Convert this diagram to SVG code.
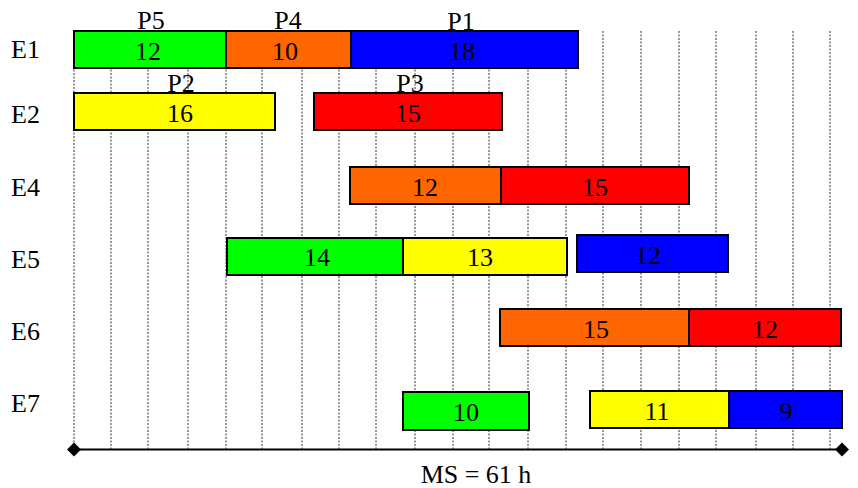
<svg xmlns="http://www.w3.org/2000/svg" width="858" height="488" viewBox="0 0 858 488">
<style>
text{font-family:"Liberation Serif","Times New Roman",serif;font-size:26px;fill:#000}
.c{text-anchor:middle}
.grid line{stroke:#333;stroke-width:1;stroke-dasharray:2,1.5}
.bar{stroke:#000;stroke-width:2}
.g{fill:#00FF00}.o{fill:#FF6600}.b{fill:#0000FF}.y{fill:#FFFF00}.r{fill:#FF0000}
</style>
<rect width="858" height="488" fill="#fff"/>
<g class="grid">
<line x1="74" y1="31" x2="74" y2="449"/>
<line x1="111" y1="31" x2="111" y2="449"/>
<line x1="148" y1="31" x2="148" y2="449"/>
<line x1="188" y1="31" x2="188" y2="449"/>
<line x1="226" y1="31" x2="226" y2="449"/>
<line x1="262" y1="31" x2="262" y2="449"/>
<line x1="302" y1="31" x2="302" y2="449"/>
<line x1="339" y1="31" x2="339" y2="449"/>
<line x1="376" y1="31" x2="376" y2="449"/>
<line x1="415" y1="31" x2="415" y2="449"/>
<line x1="453" y1="31" x2="453" y2="449"/>
<line x1="489" y1="31" x2="489" y2="449"/>
<line x1="528" y1="31" x2="528" y2="449"/>
<line x1="566" y1="31" x2="566" y2="449"/>
<line x1="603" y1="31" x2="603" y2="449"/>
<line x1="641" y1="31" x2="641" y2="449"/>
<line x1="679" y1="31" x2="679" y2="449"/>
<line x1="716" y1="31" x2="716" y2="449"/>
<line x1="756" y1="31" x2="756" y2="449"/>
<line x1="793" y1="31" x2="793" y2="449"/>
<line x1="830" y1="31" x2="830" y2="449"/>
</g>
<g id="row-labels">
<text x="11" y="58">E1</text>
<text x="11" y="123">E2</text>
<text x="11" y="196">E4</text>
<text x="11" y="268">E5</text>
<text x="11" y="340">E6</text>
<text x="11" y="412">E7</text>
</g>
<g id="E1-P5"><rect class="bar g" x="74" y="31" width="152" height="37"/><text class="c" x="148" y="60">12</text><text class="c" x="151" y="29">P5</text></g>
<g id="E1-P4"><rect class="bar o" x="226" y="31" width="125" height="37"/><text class="c" x="285" y="60">10</text><text class="c" x="288" y="29">P4</text></g>
<g id="E1-P1"><rect class="bar b" x="351" y="31" width="227" height="37"/><text class="c" x="462" y="60">18</text><text class="c" x="461" y="30">P1</text></g>
<g id="E2-P2"><rect class="bar y" x="74" y="93" width="201" height="37"/><text class="c" x="180" y="122">16</text><text class="c" x="181" y="92">P2</text></g>
<g id="E2-P3"><rect class="bar r" x="314" y="93" width="188" height="37"/><text class="c" x="408" y="122">15</text><text class="c" x="410" y="92">P3</text></g>
<g id="E4-a"><rect class="bar o" x="350" y="167" width="151" height="37"/><text class="c" x="425" y="196">12</text></g>
<g id="E4-b"><rect class="bar r" x="501" y="167" width="188" height="37"/><text class="c" x="595" y="196">15</text></g>
<g id="E5-a"><rect class="bar g" x="227" y="238" width="176" height="37"/><text class="c" x="317" y="266">14</text></g>
<g id="E5-b"><rect class="bar y" x="403" y="238" width="164" height="37"/><text class="c" x="480" y="266">13</text></g>
<g id="E5-c"><rect class="bar b" x="577" y="235" width="151" height="37"/><text class="c" x="648" y="264">12</text></g>
<g id="E6-a"><rect class="bar o" x="500" y="309" width="189" height="37"/><text class="c" x="596" y="338">15</text></g>
<g id="E6-b"><rect class="bar r" x="689" y="309" width="152" height="37"/><text class="c" x="765" y="338">12</text></g>
<g id="E7-a"><rect class="bar g" x="403" y="392" width="126" height="38"/><text class="c" x="466" y="421">10</text></g>
<g id="E7-b"><rect class="bar y" x="590" y="391" width="139" height="37"/><text class="c" x="657" y="420">11</text></g>
<g id="E7-c"><rect class="bar b" x="729" y="391" width="113" height="37"/><text class="c" x="786" y="420">9</text></g>
<g id="connectors">
<line x1="74" y1="449.5" x2="842" y2="449.5" stroke="#000" stroke-width="2"/>
<polygon points="74,442.5 81,449.5 74,456.5 67,449.5" fill="#000"/>
<polygon points="842,442.5 849,449.5 842,456.5 835,449.5" fill="#000"/>
</g>
<text class="c" x="476" y="483">MS = 61 h</text>
</svg>
